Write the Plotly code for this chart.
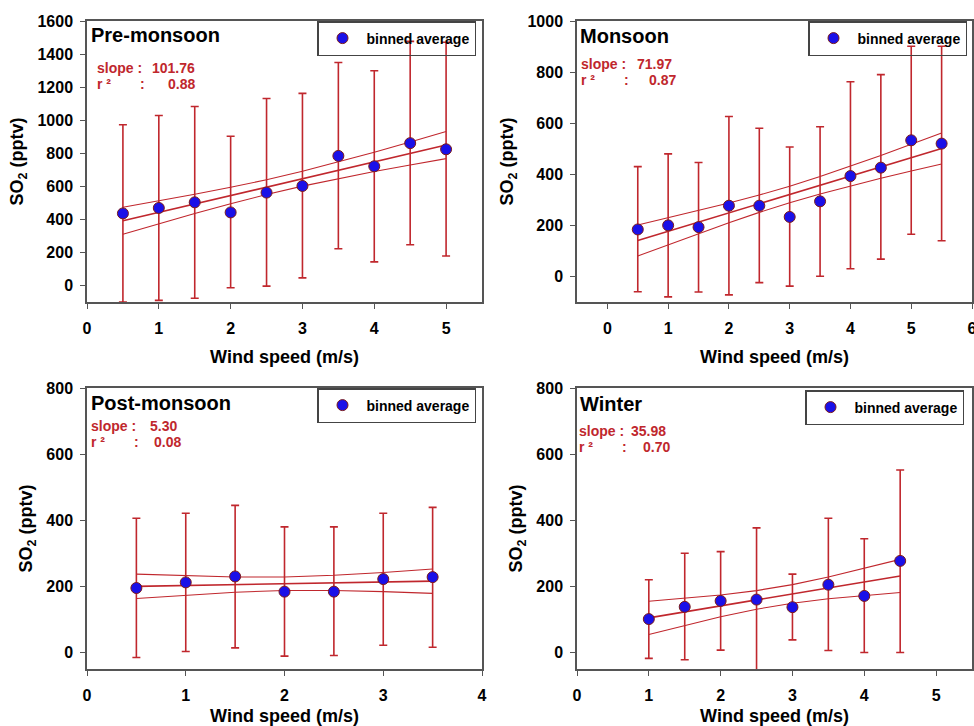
import numpy as np
import plotly.graph_objects as go

W, H = 974, 726
FONT = "Liberation Sans, Arial, sans-serif"
RED = "#c0272d"
BLUE = "#1a10e8"

# ---------------- data ----------------
pre_x = [0.5, 1.0, 1.5, 2.0, 2.5, 3.0, 3.5, 4.0, 4.5, 5.0]
pre_y = [436, 469, 503, 442, 562, 602, 784, 721, 861, 824]
pre_hi = [972, 1028, 1083, 903, 1131, 1162, 1349, 1299, 1477, 1471]
pre_lo = [-100, -90, -77, -14, -4, 46, 222, 143, 246, 178]

mon_x = [0.5, 1.0, 1.5, 2.0, 2.5, 3.0, 3.5, 4.0, 4.5, 5.0, 5.5]
mon_y = [184, 200, 193, 277, 277, 233, 294, 393, 426, 533, 520]
mon_hi = [430, 480, 446, 626, 580, 507, 586, 762, 790, 901, 901]
mon_lo = [-60, -80, -61, -72, -24, -38, 1, 30, 68, 165, 140]

post_x = [0.5, 1.0, 1.5, 2.0, 2.5, 3.0, 3.5]
post_y = [195, 212, 230, 184, 184, 222, 228]
post_hi = [406, 421, 445, 380, 380, 421, 439]
post_lo = [-15, 3, 14, -11, -9, 22, 16]

win_x = [1.0, 1.5, 2.0, 2.5, 3.0, 3.5, 4.0, 4.5]
win_y = [101, 138, 156, 160, 137, 205, 171, 277]
win_hi = [220, 300, 305, 377, 237, 406, 344, 552]
win_lo = [-18, -22, 7, -57, 38, 6, 0, 0]

season_names = ["Pre-monsoon", "Monsoon", "Post-monsoon", "Winter"]
slope_labels = ["101.76", "71.97", "5.30", "35.98"]
r2_labels = ["0.88", "0.87", "0.08", "0.70"]
legend_label = "binned average"
x_title = "Wind speed (m/s)"
y_title = "SO<sub>2</sub> (pptv)"

# Student t (95 %, two sided) for the regression confidence band
T95 = {5: 2.571, 6: 2.447, 8: 2.306, 9: 2.262}

series = [
    (pre_x, pre_y, pre_hi, pre_lo),
    (mon_x, mon_y, mon_hi, mon_lo),
    (post_x, post_y, post_hi, post_lo),
    (win_x, win_y, win_hi, win_lo),
]

# ---------------- layout geometry (pixels) ----------------
panels = [
    dict(box=(87, 482, 21, 302), xr=[0, 5.5], yr=[-100, 1600], xt=list(range(0, 6)), yt=list(range(0, 1601, 200)),
         title=(89, 35), slope=(95, 68, 197), r2=(84, 142, 197), leg=(476, 21)),
    dict(box=(577, 972, 21, 302), xr=[-0.5, 6], yr=[-100, 1000], xt=list(range(0, 7)), yt=list(range(0, 1001, 200)),
         title=(578, 36), slope=(579, 64, 674), r2=(80, 626, 678), leg=(967, 21)),
    dict(box=(87, 482, 388, 669), xr=[0, 4], yr=[-50, 800], xt=list(range(0, 5)), yt=list(range(0, 801, 200)),
         title=(89, 403), slope=(89, 426, 179), r2=(442, 136, 183), leg=(476, 388)),
    dict(box=(577, 972, 388, 669), xr=[0, 5.5], yr=[-50, 800], xt=list(range(0, 6)), yt=list(range(0, 801, 200)),
         title=(578, 404), slope=(577, 431, 668), r2=(447, 624, 672), leg=(964, 390)),
]


def px(x):
    return x / W


def py(y):
    return 1 - y / H


fig = go.Figure()
layout = dict(
    width=W, height=H, margin=dict(l=0, r=0, t=0, b=0),
    paper_bgcolor="white", plot_bgcolor="white",
    font=dict(family=FONT, color="black"),
    annotations=[],
)

for i, (p, (xs, ys, hi, lo)) in enumerate(zip(panels, series)):
    n = i + 1
    xa = "x" if n == 1 else f"x{n}"
    ya = "y" if n == 1 else f"y{n}"
    lg = "legend" if n == 1 else f"legend{n}"

    x = np.array(xs, dtype=float)
    y = np.array(ys, dtype=float)

    # linear regression + 95 % confidence band (evaluated at the bin positions)
    slope, icpt = np.polyfit(x, y, 1)
    fit = icpt + slope * x
    m = len(x)
    s = np.sqrt(np.sum((y - fit) ** 2) / (m - 2))
    sxx = np.sum((x - x.mean()) ** 2)
    half = T95[m - 2] * s * np.sqrt(1 / m + (x - x.mean()) ** 2 / sxx)

    for band, wdt in ((fit + half, 1.1), (fit - half, 1.1), (fit, 1.6)):
        fig.add_trace(go.Scatter(x=x, y=band, mode="lines", xaxis=xa, yaxis=ya,
                                 line=dict(color=RED, width=wdt), showlegend=False,
                                 hoverinfo="skip"))

    fig.add_trace(go.Scatter(
        x=x, y=y, mode="markers", xaxis=xa, yaxis=ya, legend=lg,
        name=f"<b>{legend_label}</b>",
        marker=dict(color=BLUE, size=11, line=dict(color="#7a1a1a", width=1)),
        error_y=dict(type="data", symmetric=False,
                     array=np.array(hi) - y, arrayminus=y - np.array(lo),
                     color=RED, thickness=1.6, width=4),
    ))

    x0, x1, y0, y1 = p["box"]
    axis_common = dict(showline=True, mirror=True, linecolor="#555555", linewidth=1.5,
                       ticks="outside", ticklen=5, tickwidth=1.2, tickcolor="#555555",
                       showgrid=False, zeroline=False, automargin=False,
                       ticklabeloverflow="allow",
                       tickfont=dict(family=FONT, size=16, color="black", weight="bold"))
    layout[("xaxis" if n == 1 else f"xaxis{n}")] = dict(
        axis_common, domain=[px(x0), px(x1)], anchor=ya, range=p["xr"],
        tickvals=p["xt"], ticklabelstandoff=6,
        title=dict(text=f"<b>{x_title}</b>", font=dict(family=FONT, size=18), standoff=14))
    layout[("yaxis" if n == 1 else f"yaxis{n}")] = dict(
        axis_common, domain=[py(y1), py(y0)], anchor=xa, range=p["yr"],
        tickvals=p["yt"], ticklabelstandoff=4,
        title=dict(text=f"<b>{y_title}</b>", font=dict(family=FONT, size=18), standoff=9))

    lx, ly = p["leg"]
    layout[lg] = dict(x=px(lx), y=py(ly), xanchor="right", yanchor="top",
                      xref="paper", yref="paper", itemwidth=38,
                      bordercolor="#444444", borderwidth=1.5, bgcolor="rgba(0,0,0,0)",
                      font=dict(family=FONT, size=14, color="black"))

    tx, ty = p["title"]
    ann = layout["annotations"]
    ann.append(dict(x=px(tx), y=py(ty), xref="paper", yref="paper", xanchor="left", yanchor="middle",
                    text=f"<b>{season_names[i]}</b>", showarrow=False,
                    font=dict(family=FONT, size=20, color="black")))
    sx, sy, sv = p["slope"]
    ry, rc, rv = p["r2"]
    stat_font = dict(family=FONT, size=14, color=RED)
    ann.append(dict(x=px(sx), y=py(sy), xref="paper", yref="paper", xanchor="left", yanchor="middle",
                    text="<b>slope :</b>", showarrow=False, font=stat_font))
    ann.append(dict(x=px(sv), y=py(sy), xref="paper", yref="paper", xanchor="right", yanchor="middle",
                    text=f"<b>{slope_labels[i]}</b>", showarrow=False, font=stat_font))
    ann.append(dict(x=px(sx), y=py(ry), xref="paper", yref="paper", xanchor="left", yanchor="middle",
                    text="<b>r ²</b>", showarrow=False, font=stat_font))
    ann.append(dict(x=px(rc), y=py(ry), xref="paper", yref="paper", xanchor="center", yanchor="middle",
                    text="<b>:</b>", showarrow=False, font=stat_font))
    ann.append(dict(x=px(rv), y=py(ry), xref="paper", yref="paper", xanchor="right", yanchor="middle",
                    text=f"<b>{r2_labels[i]}</b>", showarrow=False, font=stat_font))

fig.update_layout(**layout)
fig.write_html("out.html", config={"displayModeBar": False},
               post_script="document.body.style.margin='0px';document.body.style.overflow='hidden';")
